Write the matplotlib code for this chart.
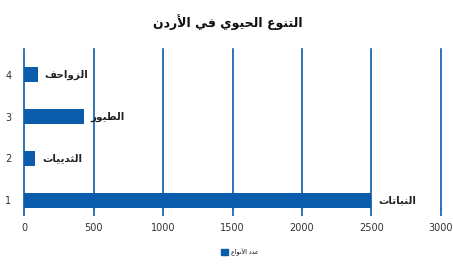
import matplotlib
matplotlib.use("Agg")
import matplotlib.pyplot as plt
from matplotlib.patches import Patch

# data
positions = [1, 2, 3, 4]
species = [2500, 80, 430, 100]
labels = ["النباتات", "الثدييات", "الطيور", "الزواحف"]
x_ticks = [0, 500, 1000, 1500, 2000, 2500, 3000]
title = "التنوع الحيوي في الأردن"
legend_label = "عدد الأنواع"

BLUE = "#0b5cab"

# simple arabic shaping (presentation forms) since matplotlib has no shaper
FORMS = {
    "ا": ("\ufe8d", "\ufe8e", None, None),
    "أ": ("\ufe83", "\ufe84", None, None),
    "د": ("\ufea9", "\ufeaa", None, None),
    "ر": ("\ufead", "\ufeae", None, None),
    "ز": ("\ufeaf", "\ufeb0", None, None),
    "و": ("\ufeed", "\ufeee", None, None),
    "ب": ("\ufe8f", "\ufe90", "\ufe91", "\ufe92"),
    "ت": ("\ufe95", "\ufe96", "\ufe97", "\ufe98"),
    "ث": ("\ufe99", "\ufe9a", "\ufe9b", "\ufe9c"),
    "ح": ("\ufea1", "\ufea2", "\ufea3", "\ufea4"),
    "ط": ("\ufec1", "\ufec2", "\ufec3", "\ufec4"),
    "ع": ("\ufec9", "\ufeca", "\ufecb", "\ufecc"),
    "ف": ("\ufed1", "\ufed2", "\ufed3", "\ufed4"),
    "ل": ("\ufedd", "\ufede", "\ufedf", "\ufee0"),
    "ن": ("\ufee5", "\ufee6", "\ufee7", "\ufee8"),
    "ي": ("\ufef1", "\ufef2", "\ufef3", "\ufef4"),
}
LAM_ALEF = {"ا": ("\ufefb", "\ufefc"), "أ": ("\ufef7", "\ufef8")}


def joins_left(c):
    return c in FORMS and FORMS[c][2] is not None


def shape(text):
    chars = list(text)
    out = []
    i = 0
    while i < len(chars):
        c = chars[i]
        prev = chars[i - 1] if i > 0 else " "
        nxt = chars[i + 1] if i + 1 < len(chars) else " "
        if c not in FORMS:
            out.append(c)
            i += 1
            continue
        jp = joins_left(prev)
        if c == "ل" and nxt in LAM_ALEF:
            out.append(LAM_ALEF[nxt][1 if jp else 0])
            i += 2
            continue
        jn = joins_left(c) and nxt in FORMS
        iso, fin, ini, med = FORMS[c]
        if jp and jn:
            out.append(med)
        elif jp:
            out.append(fin)
        elif jn:
            out.append(ini)
        else:
            out.append(iso)
        i += 1
    return "".join(out)[::-1]


fig = plt.figure(figsize=(4.53, 2.68), dpi=100)
ax = fig.add_axes([0.053, 0.224, 0.9205, 0.593])

ax.barh(positions, species, height=0.36, color=BLUE, zorder=2)
for p, v, lab in zip(positions, species, labels):
    ax.annotate(shape(lab), (v, p), xytext=(5, 0), textcoords="offset points",
                ha="left", va="center", fontsize=7.5, fontweight="bold",
                color="#222222", family="DejaVu Sans")

ax.set_xlim(0, 3000)
ax.set_ylim(0.81, 4.62)
ax.set_xticks(x_ticks)
ax.set_yticks(positions)
ax.grid(axis="x", color=BLUE, linewidth=1.2, zorder=1)
for gl in ax.get_xgridlines():
    gl.set_clip_on(False)
for s in ax.spines.values():
    s.set_visible(False)
ax.tick_params(axis="x", colors=BLUE, length=6, width=1.2, pad=5,
               labelsize=7, labelcolor="#333333")
ax.tick_params(axis="y", length=0, pad=9, labelsize=7, labelcolor="#333333")

fig.text(0.503, 0.918, shape(title), ha="center", va="center",
         fontsize=9, fontweight="bold", color="#111111")

fig.legend(handles=[Patch(color=BLUE, label=shape(legend_label))],
           loc="center", bbox_to_anchor=(0.53, 0.06), frameon=False,
           fontsize=4.5, handlelength=1.0, handleheight=1.0, handletextpad=0.6)

fig.savefig("out.png", dpi=100)
